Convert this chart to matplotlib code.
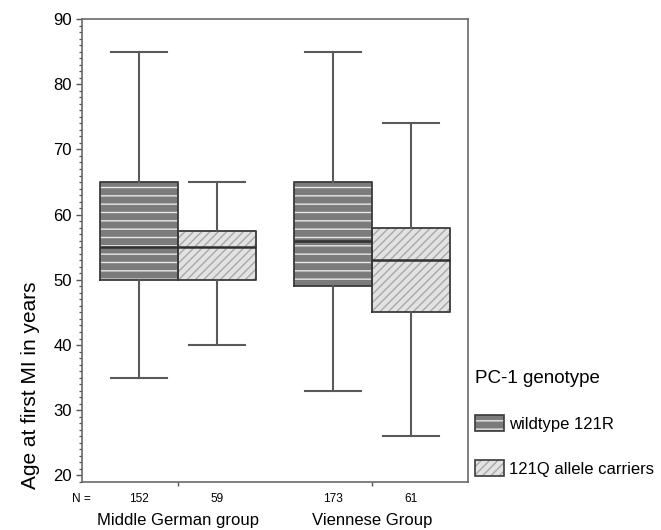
import matplotlib
matplotlib.use("Agg")
import matplotlib.pyplot as plt
from matplotlib.patches import Patch
from matplotlib.legend_handler import HandlerTuple
from matplotlib.ticker import MultipleLocator

plt.rcParams['font.family'] = ['Liberation Sans', 'DejaVu Sans']

# data
groups = ['Middle German group', 'Viennese Group']
genotypes = ['wildtype 121R', '121Q allele carriers']
n_counts = [152, 59, 173, 61]          # MG wt, MG Q, V wt, V Q
whislo = [35, 40, 33, 26]
q1 = [50, 50, 49, 45]
med = [55, 55, 56, 53]
q3 = [65, 57.5, 65, 58]
whishi = [85, 65, 85, 74]

fills = ['#7b7b7b', '#e2e2e2']
hatch_col = ['#e8e8e8', '#a8a8a8']
hatches = ['--', '////']
edge = '#3a3a3a'
line = '#5a5a5a'

fig = plt.figure(figsize=(6.61, 5.30), dpi=100)
ax = fig.add_axes([82/661, 1-482/530, 386/661, 463/530])

off = 0.201
w = 0.402
pos = []
for g in range(len(groups)):
    pos += [g + 1 - off, g + 1 + off]
kind = [0, 1, 0, 1]

# hatched fill of the boxes
for i in range(4):
    k = kind[i]
    ax.bar(pos[i], q3[i] - q1[i], bottom=q1[i], width=w, color=fills[k],
           edgecolor=hatch_col[k], hatch=hatches[k], linewidth=0, zorder=1)

stats = []
for i in range(4):
    stats.append(dict(whislo=whislo[i], q1=q1[i], med=med[i], q3=q3[i],
                      whishi=whishi[i], fliers=[]))
ax.bxp(stats, positions=pos, widths=w, capwidths=0.284, showfliers=False,
       boxprops=dict(color=edge, linewidth=1.3),
       medianprops=dict(color='#303030', linewidth=1.8),
       whiskerprops=dict(color=line, linewidth=1.5),
       capprops=dict(color=line, linewidth=1.5), manage_ticks=False)

ax.set_xlim(0.505, 2.495)
ax.set_ylim(19, 90)
ax.yaxis.set_major_locator(MultipleLocator(10))
ax.yaxis.set_minor_locator(MultipleLocator(1))
ax.tick_params(axis='y', which='major', length=4.3, width=1, color='#555555',
               labelsize=12, pad=3)
ax.tick_params(axis='y', which='minor', length=2.5, width=0.9, color='#555555')
ax.set_xticks([1, 2])
ax.set_xticklabels([])
ax.tick_params(axis='x', length=3, width=1, color='#555555')
for s in ax.spines.values():
    s.set_color('#6a6a6a')
    s.set_linewidth(1.2)

# N row and group labels
xt = ax.get_xaxis_transform()
ax.text(0.5, -0.037, 'N =', transform=xt, ha='center', va='center', fontsize=8.6)
for i in range(4):
    ax.text(pos[i], -0.037, str(n_counts[i]), transform=xt, ha='center',
            va='center', fontsize=8.6)
for g in range(len(groups)):
    ax.text(g + 1, -0.084, groups[g], transform=xt, ha='center', va='center',
            fontsize=12)

fig.text(31/661, 1-385/530, 'Age at first MI in years', rotation=90,
         ha='center', va='center', fontsize=15)

# legend
handles = []
for k in range(2):
    p1 = Patch(facecolor=fills[k], edgecolor=hatch_col[k], hatch=hatches[k], linewidth=0)
    p2 = Patch(facecolor='none', edgecolor=edge, linewidth=1.2)
    handles.append((p1, p2))
leg = fig.legend(handles, genotypes, handler_map={tuple: HandlerTuple(ndivide=1, pad=0)},
                 loc='upper left', bbox_to_anchor=(475/661, 1-370/530),
                 frameon=False, fontsize=12, title='PC-1 genotype',
                 title_fontsize=13.5, alignment='left', borderpad=0,
                 handlelength=1.74, handleheight=1.14, handletextpad=0.3,
                 labelspacing=1.68, borderaxespad=0)

fig.savefig('out.png', dpi=100)
